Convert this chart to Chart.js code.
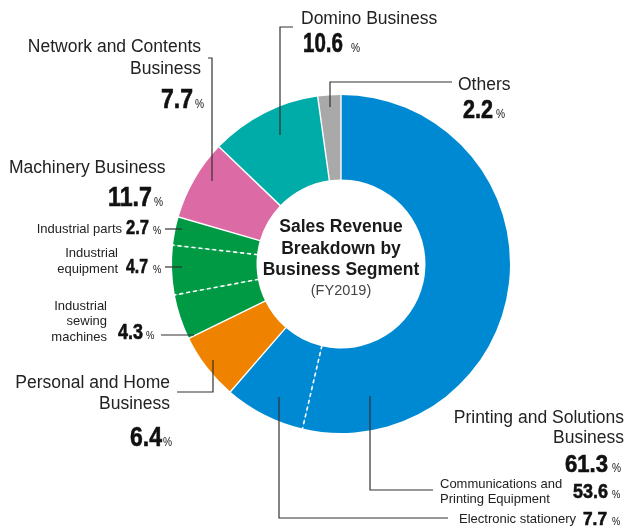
<!DOCTYPE html>
<html>
<head>
<meta charset="utf-8">
<script src="https://cdn.jsdelivr.net/npm/chart.js@4/dist/chart.umd.min.js"></script>
<style>
  html, body { margin: 0; padding: 0; background: #fff; }
  #wrap { width: 626px; height: 530px; position: relative; }
</style>
</head>
<body>
<div id="wrap"><canvas id="segmentChart"></canvas></div>
<script>
// Sales revenue by business segment, FY2019 (%)
const segmentNames = [
    'Communications and Printing Equipment',
    'Electronic stationery',
    'Personal and Home Business',
    'Industrial sewing machines',
    'Industrial equipment',
    'Industrial parts',
    'Network and Contents Business',
    'Domino Business',
    'Others'
];
const segmentShares = [53.6, 7.7, 6.4, 4.3, 4.7, 2.7, 7.7, 10.6, 2.2];
const segmentGroups = ['printing', 'printing', 'personal', 'machinery', 'machinery', 'machinery', 'network', 'domino', 'others'];

const groupColors = {
    printing: '#0089d3',
    personal: '#ef8300',
    machinery: '#009a44',
    network: '#dc6aa5',
    domino: '#00aca7',
    others: '#a9a9a9'
};

const FONT = '"Liberation Sans", Arial, Helvetica, sans-serif';

function groupTotal(group) {
    let sum = 0;
    segmentShares.forEach((v, i) => { if (segmentGroups[i] === group) sum += v; });
    return Math.round(sum * 10) / 10;
}
function share(name) {
    return segmentShares[segmentNames.indexOf(name)];
}

// annotation layout: text lines, big number box, % position, leader line
const labelLayout = [
    { lines: [['Domino Business', 301, 24, 'left', 17.5]],
      value: () => groupTotal('domino'), num: [303, 343, 52, 27], pct: 351,
      leader: [[293, 27], [280, 27], [280, 135]] },
    { lines: [['Network and Contents', 201, 52, 'right', 17.5], ['Business', 201, 74, 'right', 17.5]],
      value: () => groupTotal('network'), num: [161, 193, 108, 27], pct: 195,
      leader: [[208, 58], [212, 58], [212, 181]] },
    { lines: [['Others', 458, 90, 'left', 17.5]],
      value: () => groupTotal('others'), num: [463, 493, 118, 25], pct: 496,
      leader: [[452, 82], [330, 82], [330, 107]] },
    { lines: [['Machinery Business', 9, 173, 'left', 17.5]],
      value: () => groupTotal('machinery'), num: [108, 152, 206, 27], pct: 154,
      leader: null },
    { lines: [['Industrial parts', 122, 233, 'right', 13]],
      value: () => share('Industrial parts'), num: [126, 149, 234, 21], pct: 153,
      leader: [[165, 229], [182, 229]] },
    { lines: [['Industrial', 118, 257, 'right', 13], ['equipment', 118, 273, 'right', 13]],
      value: () => share('Industrial equipment'), num: [126, 148, 273, 21], pct: 153,
      leader: [[165, 267], [182, 267]] },
    { lines: [['Industrial', 107, 310, 'right', 13], ['sewing', 107, 325, 'right', 13], ['machines', 107, 341, 'right', 13]],
      value: () => share('Industrial sewing machines'), num: [118, 143, 339, 22], pct: 146,
      leader: [[161, 335], [194, 335]] },
    { lines: [['Personal and Home', 170, 388, 'right', 17.5], ['Business', 170, 409, 'right', 17.5]],
      value: () => groupTotal('personal'), num: [130, 162, 446, 28], pct: 163,
      leader: [[177, 392], [213, 392], [213, 360]] },
    { lines: [['Printing and Solutions', 624, 423, 'right', 17.5], ['Business', 624, 443, 'right', 17.5]],
      value: () => groupTotal('printing'), num: [565, 608, 472, 24], pct: 612,
      leader: null },
    { lines: [['Communications and', 440, 488, 'left', 13], ['Printing Equipment', 440, 503, 'left', 13]],
      value: () => share('Communications and Printing Equipment'), num: [573, 608, 498, 21], pct: 612,
      leader: [[433, 490], [370, 490], [370, 396]] },
    { lines: [['Electronic stationery', 459, 523, 'left', 13]],
      value: () => share('Electronic stationery'), num: [583, 607, 525, 18], pct: 612,
      leader: [[448, 518], [279, 518], [279, 397]] }
];

const centerLines = [
    ['Sales Revenue', 232, 'bold 17.5px'],
    ['Breakdown by', 254, 'bold 17.5px'],
    ['Business Segment', 275, 'bold 17.5px'],
    ['(FY2019)', 295, '14.5px']
];

function drawNumber(ctx, value, box, pctX) {
    const [left, right, base, size] = box;
    const txt = value.toFixed(1);
    ctx.font = 'bold ' + size + 'px ' + FONT;
    const w = ctx.measureText(txt).width;
    ctx.save();
    ctx.translate(left, base);
    ctx.scale((right - left) / w, 1);
    ctx.textAlign = 'left';
    ctx.fillText(txt, 0, 0);
    // slightly heavier strokes, like the condensed black face of the original
    ctx.strokeStyle = ctx.fillStyle;
    ctx.lineWidth = 0.6;
    ctx.strokeText(txt, 0, 0);
    ctx.restore();
    ctx.font = (size > 22 ? 12 : 11) + 'px ' + FONT;
    ctx.save();
    ctx.translate(pctX, base);
    ctx.scale(0.85, 1);
    ctx.textAlign = 'left';
    ctx.fillText('%', 0, 0);
    ctx.restore();
}

const segmentDecor = {
    id: 'segmentDecor',
    afterDatasetsDraw(chart) {
        const ctx = chart.ctx;
        const arcs = chart.getDatasetMeta(0).data;
        const n = arcs.length;
        ctx.save();
        ctx.strokeStyle = '#ffffff';
        arcs.forEach((arc, i) => {
            const prev = (i - 1 + n) % n;
            const sameGroup = segmentGroups[i] === segmentGroups[prev];
            const a = arc.startAngle;
            ctx.beginPath();
            ctx.setLineDash(sameGroup ? [4, 3] : []);
            ctx.lineWidth = sameGroup ? 1.6 : 1.4;
            ctx.moveTo(arc.x + Math.cos(a) * (arc.innerRadius - 1), arc.y + Math.sin(a) * (arc.innerRadius - 1));
            ctx.lineTo(arc.x + Math.cos(a) * (arc.outerRadius + 1), arc.y + Math.sin(a) * (arc.outerRadius + 1));
            ctx.stroke();
        });
        ctx.setLineDash([]);

        // centre title
        const cx = arcs[0].x;
        ctx.textAlign = 'center';
        ctx.textBaseline = 'alphabetic';
        centerLines.forEach(([t, y, f], i) => {
            ctx.fillStyle = i === 3 ? '#444' : '#1a1a1a';
            ctx.font = f + ' ' + FONT;
            ctx.fillText(t, cx, y);
        });

        // labels and leader lines
        ctx.strokeStyle = '#333';
        ctx.lineWidth = 1.2;
        labelLayout.forEach(lab => {
            if (lab.leader) {
                ctx.strokeStyle = '#333';
                ctx.lineWidth = 1.2;
                ctx.beginPath();
                lab.leader.forEach(([x, y], k) => k ? ctx.lineTo(x, y) : ctx.moveTo(x, y));
                ctx.stroke();
            }
            ctx.fillStyle = '#222';
            lab.lines.forEach(([t, x, y, align, size]) => {
                ctx.font = size + 'px ' + FONT;
                ctx.textAlign = align;
                ctx.fillText(t, x, y);
            });
            ctx.fillStyle = '#111';
            drawNumber(ctx, lab.value(), lab.num, lab.pct);
        });
        ctx.restore();
    }
};

new Chart(document.getElementById('segmentChart'), {
    type: 'doughnut',
    data: {
        labels: segmentNames,
        datasets: [{
            data: segmentShares,
            backgroundColor: segmentGroups.map(g => groupColors[g]),
            borderWidth: 0
        }]
    },
    options: {
        responsive: true,
        maintainAspectRatio: false,
        animation: false,
        cutout: '50%',
        layout: { padding: { left: 172, right: 116, top: 95, bottom: 97 } },
        plugins: {
            legend: { display: false },
            tooltip: { enabled: false }
        }
    },
    plugins: [segmentDecor]
});
</script>
</body>
</html>
